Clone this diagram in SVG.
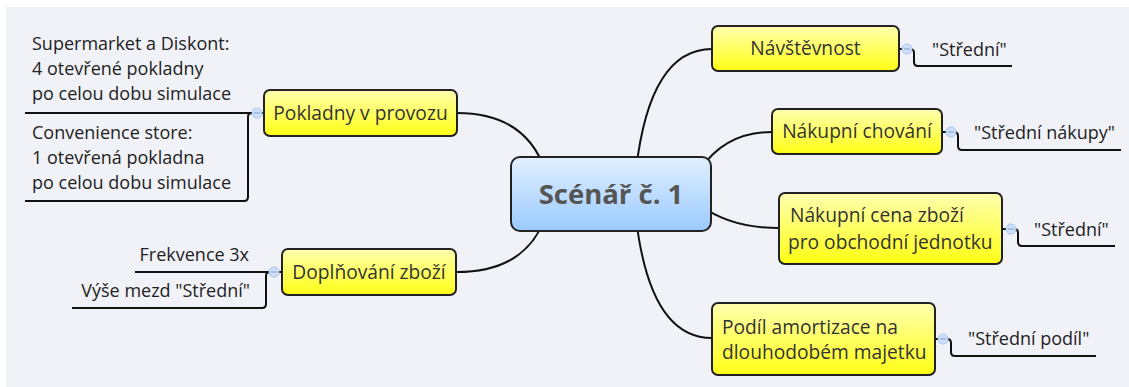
<svg xmlns="http://www.w3.org/2000/svg" width="1129" height="387" viewBox="0 0 1129 387">
<defs>
<linearGradient id="gy" x1="0" y1="0" x2="0" y2="1">
<stop offset="0" stop-color="#ffffb0"/>
<stop offset="1" stop-color="#ffff14"/>
</linearGradient>
<linearGradient id="gb" x1="0" y1="0" x2="0" y2="1">
<stop offset="0" stop-color="#e2f0ff"/>
<stop offset="1" stop-color="#9acaff"/>
</linearGradient>
<style>
.n{fill:url(#gy);stroke:#222;stroke-width:2}
.c{fill:url(#gb);stroke:#222;stroke-width:2}
.t{font-family:"Open Sans","Noto Sans",sans-serif;font-size:19.2px;fill:#333}
.s{font-family:"Open Sans","Noto Sans",sans-serif;font-size:18px;fill:#222}
.ct{font-family:"Open Sans","Noto Sans",sans-serif;font-size:27.5px;font-weight:bold;fill:#555}
.l{fill:none;stroke:#111;stroke-width:2}
.k{fill:#cfe0fa;stroke:#a8c4ee;stroke-width:1}
.km{stroke:#7f9cc8;stroke-width:1}
</style>
</defs>
<rect x="0" y="0" width="1129" height="387" fill="#ffffff"/>
<rect x="6" y="7" width="1123" height="380" fill="#f1f2f8"/>

<g id="connectors">
<path class="l" d="M457,113 Q525,113 545,170"/>
<path class="l" d="M457,272 Q525,272 545,218"/>
<path class="l" d="M636,170 Q650,49 712,49"/>
<path class="l" d="M700,170 Q725,132 772,132"/>
<path class="l" d="M700,205 Q730,228 779,228"/>
<path class="l" d="M636,218 Q650,338 712,338"/>
<path class="l" d="M264,113 H25"/>
<path class="l" d="M252,113 Q248,113 248,117 V197 Q248,201 244,201 H25"/>
<path class="l" d="M282,272 H135"/>
<path class="l" d="M270,272 Q266,272 266,276 V304 Q266,308 262,308 H72"/>
<path class="l" d="M899,49 H910 Q914,49 914,53 V62 Q914,66 918,66 H1012"/>
<path class="l" d="M942,132 H954 Q958,132 958,136 V146 Q958,150 962,150 H1121"/>
<path class="l" d="M1002,229 H1014 Q1018,229 1018,233 V242 Q1018,246 1022,246 H1115"/>
<path class="l" d="M935,339 H947 Q951,339 951,343 V352 Q951,356 955,356 H1096"/>
</g>

<g id="central">
<rect class="c" x="511" y="157" width="200" height="74" rx="9"/>
<text class="ct" x="611" y="204" text-anchor="middle">Scénář č. 1</text>
</g>

<g id="pokladny">
<rect class="n" x="264" y="90" width="193" height="46" rx="6"/>
<text class="t" x="360.5" y="119.5" text-anchor="middle">Pokladny v provozu</text>
<circle class="k" cx="257" cy="113" r="5"/>
<line class="km" x1="254" y1="113" x2="260" y2="113"/>
</g>
<g id="pokladny-supermarket">
<text class="s" x="32" y="50">Supermarket a Diskont:</text>
<text class="s" x="32" y="75">4 otevřené pokladny</text>
<text class="s" x="32" y="100">po celou dobu simulace</text>
</g>
<g id="pokladny-convenience">
<text class="s" x="32" y="139">Convenience store:</text>
<text class="s" x="32" y="164">1 otevřená pokladna</text>
<text class="s" x="32" y="189">po celou dobu simulace</text>
</g>

<g id="doplnovani">
<rect class="n" x="282" y="249" width="174" height="46" rx="6"/>
<text class="t" x="369" y="278.5" text-anchor="middle">Doplňování zboží</text>
<circle class="k" cx="274" cy="272" r="5"/>
<line class="km" x1="271" y1="272" x2="277" y2="272"/>
</g>
<g id="doplnovani-frekvence">
<text class="s" x="249" y="261" text-anchor="end">Frekvence 3x</text>
</g>
<g id="doplnovani-vyse">
<text class="s" x="250" y="297" text-anchor="end">Výše mezd "Střední"</text>
</g>

<g id="navstevnost">
<rect class="n" x="712" y="26" width="187" height="45" rx="6"/>
<text class="t" x="805.5" y="55" text-anchor="middle">Návštěvnost</text>
<circle class="k" cx="907" cy="49" r="5"/>
<line class="km" x1="904" y1="49" x2="910" y2="49"/>
</g>
<g id="navstevnost-value">
<text class="s" x="932" y="56">"Střední"</text>
</g>

<g id="nakupni-chovani">
<rect class="n" x="772" y="109" width="170" height="45" rx="6"/>
<text class="t" x="857" y="138" text-anchor="middle">Nákupní chování</text>
<circle class="k" cx="951" cy="132" r="5"/>
<line class="km" x1="948" y1="132" x2="954" y2="132"/>
</g>
<g id="nakupni-chovani-value">
<text class="s" x="974" y="139">"Střední nákupy"</text>
</g>

<g id="nakupni-cena">
<rect class="n" x="779" y="193" width="223" height="71" rx="6"/>
<text class="t" x="790" y="222">Nákupní cena zboží</text>
<text class="t" x="788" y="249">pro obchodní jednotku</text>
<circle class="k" cx="1011" cy="229" r="5"/>
<line class="km" x1="1008" y1="229" x2="1014" y2="229"/>
</g>
<g id="nakupni-cena-value">
<text class="s" x="1034" y="236">"Střední"</text>
</g>

<g id="podil">
<rect class="n" x="712" y="303" width="223" height="72" rx="6"/>
<text class="t" x="722" y="334">Podíl amortizace na</text>
<text class="t" x="722" y="359">dlouhodobém majetku</text>
<circle class="k" cx="943" cy="339" r="5"/>
<line class="km" x1="940" y1="339" x2="946" y2="339"/>
</g>
<g id="podil-value">
<text class="s" x="968" y="345">"Střední podíl"</text>
</g>
</svg>
